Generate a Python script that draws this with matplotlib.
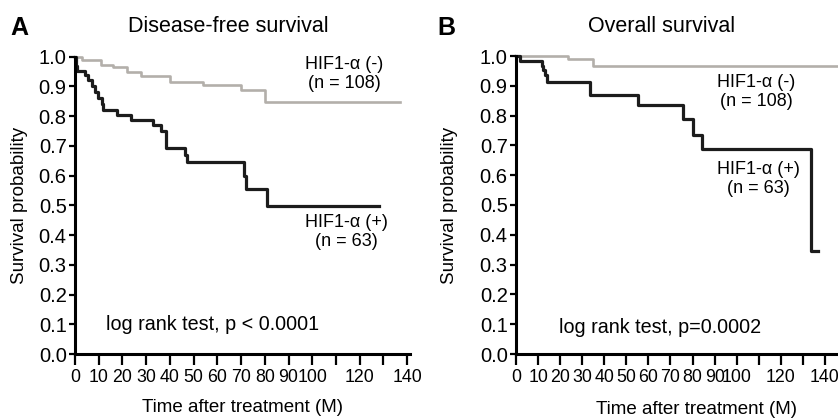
import matplotlib
matplotlib.use('Agg')
import matplotlib.pyplot as plt

plt.rcParams['font.family'] = ['Liberation Sans', 'DejaVu Sans']

# Disease-free survival (panel A), Kaplan-Meier step values
dfs_neg_time = [0, 2.8, 11, 16, 22, 28, 40, 54, 70, 80, 137]
dfs_neg_surv = [1.0, 0.99, 0.973, 0.965, 0.95, 0.934, 0.915, 0.905, 0.889, 0.848, 0.848]
dfs_pos_time = [0, 0.5, 1, 4.2, 5.6, 7.0, 8.4, 9.8, 11.2, 12, 17.5, 23.8, 33, 36.4, 38.5,
                46.2, 47, 71.4, 72.1, 81, 128]
dfs_pos_surv = [1.0, 0.968, 0.952, 0.937, 0.92, 0.9, 0.88, 0.86, 0.84, 0.822, 0.805, 0.788,
                0.771, 0.75, 0.693, 0.67, 0.645, 0.6, 0.555, 0.497, 0.497]

# Overall survival (panel B)
os_neg_time = [0, 23.7, 35, 150]
os_neg_surv = [1.0, 0.989, 0.965, 0.965]
os_pos_time = [0, 1.8, 11.6, 12.4, 13.1, 13.9, 33.5, 55.4, 75.8, 80.3, 84.1, 133.5, 137]
os_pos_surv = [1.0, 0.984, 0.968, 0.952, 0.937, 0.913, 0.868, 0.835, 0.79, 0.735, 0.688,
               0.344, 0.344]

x_ticks = list(range(0, 150, 10))
x_labels = [str(t) if (t <= 100 or t % 20 == 0) else '' for t in x_ticks]
y_ticks = [i / 10 for i in range(11)]

W, H = 838, 418
fig = plt.figure(figsize=(W / 100, H / 100), dpi=100)

GRAY = '#b3afaa'
BLACK = '#1c1c1c'
FS = 13.5


def px(x, y):
    return x / W, 1 - y / H


def style_axes(ax, xmax):
    ax.set_xlim(0, xmax)
    ax.set_ylim(0, 1.0)
    for s in ['top', 'right']:
        ax.spines[s].set_visible(False)
    for s in ['left', 'bottom']:
        ax.spines[s].set_linewidth(2.2)
    ax.set_xticks(x_ticks)
    ax.set_xticklabels(x_labels)
    ax.set_yticks(y_ticks)
    ax.set_yticklabels([f'{v:.1f}' for v in y_ticks])
    ax.tick_params(axis='x', length=8, width=1.6, pad=3, labelsize=12.8)
    ax.tick_params(axis='y', length=4.5, width=1.6, pad=1.5, labelsize=14.5)


# Panel A
axA = fig.add_axes([75 / W, 64 / H, 334.5 / W, 297.3 / H])
axA.step(dfs_neg_time, dfs_neg_surv, where='post', color=GRAY, lw=1.9, clip_on=False)
axA.step(dfs_pos_time, dfs_pos_surv, where='post', color=BLACK, lw=2.3, clip_on=False)
style_axes(axA, 141)
axA.text(113.5, 0.943, 'HIF1-α (-)\n(n = 108)', ha='center', va='center', fontsize=13,
         linespacing=1.15)
axA.text(114.5, 0.41, 'HIF1-α (+)\n(n = 63)', ha='center', va='center', fontsize=13,
         linespacing=1.15)
axA.text(58, 0.1, 'log rank test, p < 0.0001', ha='center', va='center', fontsize=14.2)

# Panel B
axB = fig.add_axes([516 / W, 64 / H, 326.6 / W, 298 / H])
axB.step(os_neg_time, os_neg_surv, where='post', color=GRAY, lw=1.9, clip_on=False)
axB.step(os_pos_time, os_pos_surv, where='post', color=BLACK, lw=2.3, clip_on=False)
style_axes(axB, 148)
axB.text(109, 0.88, 'HIF1-α (-)\n(n = 108)', ha='center', va='center', fontsize=13,
         linespacing=1.15)
axB.text(110, 0.587, 'HIF1-α (+)\n(n = 63)', ha='center', va='center', fontsize=13,
         linespacing=1.15)
axB.text(65.4, 0.09, 'log rank test, p=0.0002', ha='center', va='center', fontsize=14.2)

# labels and titles
fig.text(*px(19, 28), 'A', fontsize=18, fontweight='bold', ha='center', va='center')
fig.text(*px(446, 28), 'B', fontsize=18, fontweight='bold', ha='center', va='center')
fig.text(*px(228, 27), 'Disease-free survival', fontsize=15.5, ha='center', va='center')
fig.text(*px(662, 27), 'Overall survival', fontsize=15.5, ha='center', va='center')
fig.text(*px(20, 205), 'Survival probability', fontsize=FS, rotation=90,
         ha='center', va='center')
fig.text(*px(449, 205), 'Survival probability', fontsize=FS, rotation=90,
         ha='center', va='center')
fig.text(*px(242, 408), 'Time after treatment (M)', fontsize=FS, ha='center', va='center')
fig.text(*px(696, 409), 'Time after treatment (M)', fontsize=FS, ha='center', va='center')

fig.savefig('out.png', dpi=100)
